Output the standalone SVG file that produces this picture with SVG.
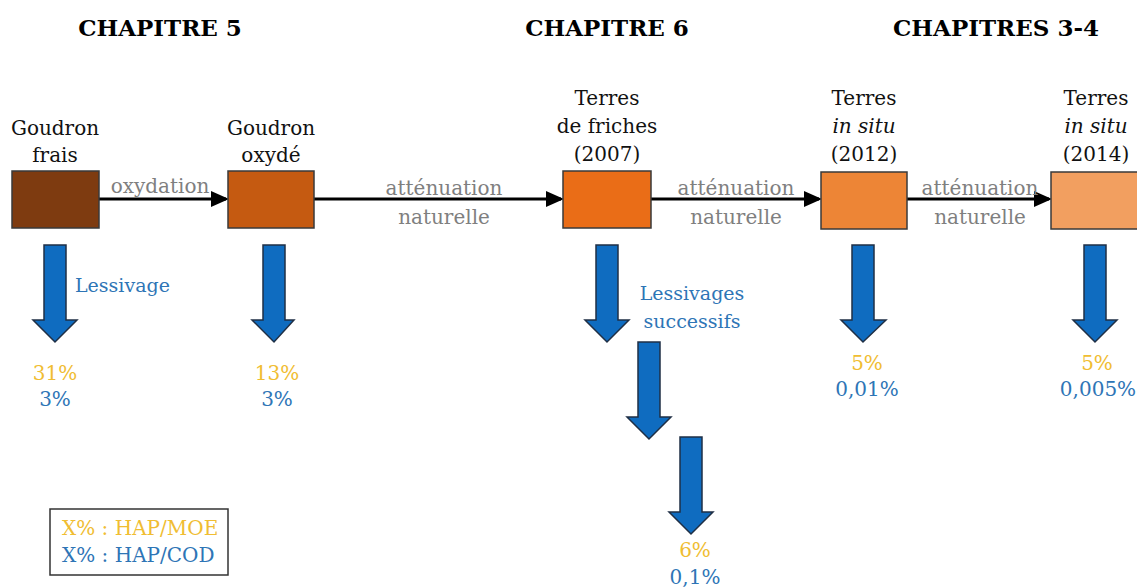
<svg xmlns="http://www.w3.org/2000/svg" width="1137" height="588" viewBox="0 0 1137 588">
<style>
text{font-family:"DejaVu Serif","Liberation Serif",serif;}
.h{font-size:23px;font-weight:bold;fill:#000;text-anchor:middle;}
.t{font-size:20px;fill:#111;text-anchor:middle;}
.g{font-size:20px;fill:#7f7f7f;text-anchor:middle;}
.b{font-size:19px;fill:#2e75b6;}
.l{font-size:20px;}
.y{font-size:20px;fill:#f0bd32;text-anchor:middle;}
.p{font-size:20px;fill:#2e75b6;text-anchor:middle;}
.box{stroke:#3a3a3a;stroke-width:1.5;}
.da{fill:#0f6cc0;stroke:#1f2f45;stroke-width:1.5;stroke-linejoin:miter;}
.ln{stroke:#000;stroke-width:3;fill:none;marker-end:url(#ah);}
</style>
<defs>
<marker id="ah" markerWidth="6" markerHeight="6" refX="5" refY="3" orient="auto" markerUnits="strokeWidth" viewBox="0 0 6 6">
<path d="M0,0.3 L6,3 L0,5.7 z" fill="#000"/>
</marker>
</defs>
<rect width="1137" height="588" fill="#fff"/>
<g id="headers">
<text class="h" x="160" y="36">CHAPITRE 5</text>
<text class="h" x="607" y="36">CHAPITRE 6</text>
<text class="h" x="996" y="36">CHAPITRES 3-4</text>
</g>
<g id="connectors">
<line class="ln" x1="99" y1="199" x2="226" y2="199"/>
<line class="ln" x1="314" y1="199" x2="561" y2="199"/>
<line class="ln" x1="651" y1="199" x2="819" y2="199"/>
<line class="ln" x1="907" y1="199" x2="1049" y2="199"/>
<text class="g" x="160" y="193">oxydation</text>
<text class="g" x="444" y="195">atténuation</text>
<text class="g" x="444" y="224">naturelle</text>
<text class="g" x="736" y="195">atténuation</text>
<text class="g" x="736" y="224">naturelle</text>
<text class="g" x="980" y="195">atténuation</text>
<text class="g" x="980" y="224">naturelle</text>
</g>
<g id="n1">
<text class="t" x="55" y="135">Goudron</text>
<text class="t" x="55" y="162">frais</text>
<rect class="box" x="12" y="171" width="87" height="57" fill="#7e3b10"/>
<path class="da" d="M44,245 H66 V320 H77 L55,342 L33,320 H44 Z"/>
<text class="b" x="75" y="292">Lessivage</text>
<text class="y" x="55" y="380">31%</text>
<text class="p" x="55" y="406">3%</text>
</g>
<g id="n2">
<text class="t" x="271" y="135">Goudron</text>
<text class="t" x="271" y="162">oxydé</text>
<rect class="box" x="228" y="171" width="86" height="57" fill="#c55a11"/>
<path class="da" d="M263,245 H285 V320 H294 L274,342 L252,320 H263 Z"/>
<text class="y" x="277" y="380">13%</text>
<text class="p" x="277" y="406">3%</text>
</g>
<g id="n3">
<text class="t" x="607" y="105">Terres</text>
<text class="t" x="607" y="133">de friches</text>
<text class="t" x="607" y="161">(2007)</text>
<rect class="box" x="563" y="171" width="88" height="57" fill="#ea6d17"/>
<path class="da" d="M596,245 H618 V320 H629 L607,342 L585,320 H596 Z"/>
<path class="da" d="M638,342 H660 V417 H671 L649,439 L627,417 H638 Z"/>
<path class="da" d="M680,437 H702 V512 H713 L691,534 L669,512 H680 Z"/>
<text class="b" x="692" y="300" text-anchor="middle">Lessivages</text>
<text class="b" x="692" y="328" text-anchor="middle">successifs</text>
<text class="y" x="695" y="557">6%</text>
<text class="p" x="695" y="584">0,1%</text>
</g>
<g id="n4">
<text class="t" x="864" y="105">Terres</text>
<text class="t" x="864" y="133" font-style="italic">in situ</text>
<text class="t" x="864" y="161">(2012)</text>
<rect class="box" x="821" y="172" width="86" height="57" fill="#ed8536"/>
<path class="da" d="M852,245 H874 V320 H886 L863,342 L841,320 H852 Z"/>
<text class="y" x="867" y="370">5%</text>
<text class="p" x="867" y="396">0,01%</text>
</g>
<g id="n5">
<text class="t" x="1096" y="105">Terres</text>
<text class="t" x="1096" y="133" font-style="italic">in situ</text>
<text class="t" x="1096" y="161">(2014)</text>
<rect class="box" x="1051" y="172" width="90" height="57" fill="#f29f60"/>
<path class="da" d="M1084,245 H1106 V320 H1117 L1095,342 L1073,320 H1084 Z"/>
<text class="y" x="1097" y="370">5%</text>
<text class="p" x="1098" y="396">0,005%</text>
</g>
<g id="legend">
<rect x="50" y="509" width="178" height="66" fill="#fff" stroke="#333" stroke-width="1.5"/>
<text class="b l" x="62" y="535" style="fill:#f0bd32">X% : HAP/MOE</text>
<text class="b l" x="62" y="562">X% : HAP/COD</text>
</g>
</svg>
